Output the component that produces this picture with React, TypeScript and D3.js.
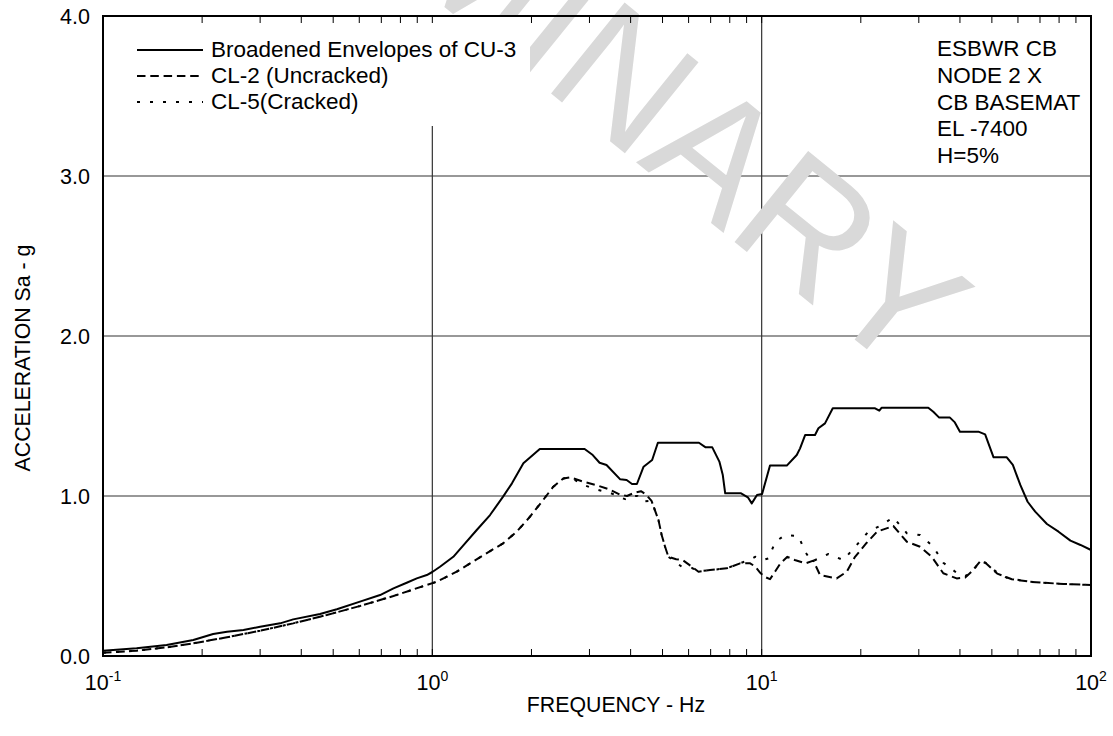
import React from "react";
import * as d3 from "d3";

const W = 1113;
const H = 736;
const M = { left: 103, right: 1091, top: 16, bottom: 656 };

// CU-3 broadened envelope [frequency Hz, acceleration g]
const cu3Envelope: [number, number][] = [
  [0.1, 0.033], [0.1265, 0.048], [0.156, 0.069], [0.188, 0.1], [0.216, 0.1375], [0.238, 0.152],
  [0.267, 0.1625], [0.3, 0.183], [0.345, 0.204], [0.378, 0.229], [0.456, 0.2625], [0.513, 0.292],
  [0.603, 0.34], [0.694, 0.381], [0.762, 0.423], [0.836, 0.458], [0.897, 0.485], [0.962, 0.506],
  [1.0, 0.525], [1.055, 0.558], [1.158, 0.62], [1.24, 0.69], [1.364, 0.7875], [1.497, 0.881],
  [1.64, 0.996], [1.745, 1.079], [1.89, 1.204], [2.12, 1.294], [2.9, 1.294], [3.07, 1.256],
  [3.22, 1.208], [3.38, 1.194], [3.72, 1.104], [3.89, 1.1], [4.04, 1.075], [4.18, 1.075],
  [4.38, 1.183], [4.65, 1.225], [4.84, 1.333], [6.45, 1.333], [6.76, 1.304], [7.08, 1.304],
  [7.44, 1.215], [7.62, 1.131], [7.75, 1.017], [8.66, 1.017], [9.08, 0.992], [9.33, 0.954],
  [9.68, 1.006], [10.03, 1.0125], [10.6, 1.19], [11.92, 1.19], [12.78, 1.256], [13.08, 1.298],
  [13.55, 1.381], [14.52, 1.381], [14.87, 1.423], [15.57, 1.454], [16.44, 1.548], [22.1, 1.548],
  [22.76, 1.533], [23.15, 1.552], [32.06, 1.552], [33.2, 1.527], [34.6, 1.49], [37.3, 1.49],
  [38.6, 1.46], [40.0, 1.402], [45.5, 1.402], [47.7, 1.385], [50.6, 1.242], [55.5, 1.242],
  [57.9, 1.194], [61.0, 1.069], [64.2, 0.964], [67.7, 0.902], [73.5, 0.825], [79.7, 0.777],
  [86.6, 0.721], [92.9, 0.694], [100, 0.6625],
];

// CL-2 (Uncracked)
const cl2Uncracked: [number, number][] = [
  [0.1, 0.021], [0.1265, 0.033], [0.156, 0.054], [0.188, 0.079], [0.238, 0.117], [0.3, 0.158],
  [0.378, 0.204], [0.478, 0.256], [0.603, 0.3125], [0.762, 0.375], [0.962, 0.444], [1.03, 0.464],
  [1.186, 0.527], [1.302, 0.579], [1.46, 0.642], [1.64, 0.704], [1.804, 0.777], [1.98, 0.871],
  [2.17, 0.975], [2.33, 1.058], [2.5, 1.11], [2.62, 1.117], [2.87, 1.09], [3.15, 1.068],
  [3.46, 1.04], [3.7, 1.01], [3.9, 1.0], [4.1, 1.02], [4.3, 1.03], [4.45, 1.01], [4.63, 0.97],
  [4.86, 0.85], [4.97, 0.756], [5.09, 0.683], [5.21, 0.62], [5.5, 0.605], [5.75, 0.6],
  [6.14, 0.558], [6.43, 0.527], [6.97, 0.5375], [7.83, 0.548], [8.6, 0.579], [9.2, 0.58],
  [9.55, 0.56], [9.9, 0.52], [10.2, 0.495], [10.6, 0.48], [11.0, 0.53], [11.4, 0.579],
  [11.97, 0.62], [12.6, 0.6], [13.6, 0.579], [14.35, 0.596], [15.04, 0.506], [16.9, 0.485],
  [18.13, 0.527], [19.21, 0.62], [20.85, 0.708], [22.4, 0.777], [25.1, 0.8125], [27.6, 0.714],
  [30.27, 0.683], [32.85, 0.62], [35.6, 0.517], [39.1, 0.485], [41.5, 0.49], [43.5, 0.53],
  [46, 0.59], [47.7, 0.585], [51.9, 0.515], [57.5, 0.48], [65.3, 0.464], [71.7, 0.458],
  [82.5, 0.45], [100, 0.444],
];

// CL-5 (Cracked)
const cl5Cracked: [number, number][] = [
  [0.1, 0.021], [0.1265, 0.033], [0.156, 0.054], [0.188, 0.079], [0.238, 0.117], [0.3, 0.158],
  [0.378, 0.204], [0.478, 0.256], [0.603, 0.3125], [0.762, 0.375], [0.962, 0.444], [1.03, 0.464],
  [1.186, 0.527], [1.302, 0.579], [1.46, 0.642], [1.64, 0.704], [1.804, 0.777], [1.98, 0.871],
  [2.17, 0.975], [2.33, 1.058], [2.5, 1.11], [2.62, 1.117], [2.87, 1.07], [3.15, 1.04],
  [3.46, 1.02], [3.85, 0.98], [4.05, 1.0], [4.2, 1.0], [4.33, 0.965], [4.63, 0.97],
  [4.86, 0.85], [4.97, 0.756], [5.09, 0.683], [5.21, 0.62], [5.45, 0.59], [5.72, 0.558],
  [6.14, 0.55], [6.43, 0.53], [6.97, 0.537], [7.83, 0.548], [8.6, 0.58], [9.2, 0.6],
  [9.55, 0.62], [10.1, 0.6], [10.48, 0.61], [11.0, 0.714], [11.78, 0.756], [12.93, 0.75],
  [13.55, 0.652], [14.19, 0.59], [15.95, 0.6375], [17.7, 0.6], [19.45, 0.694], [21.09, 0.777],
  [23.16, 0.819], [25.1, 0.867], [27.6, 0.767], [30.27, 0.756], [33.2, 0.683], [35.6, 0.583],
  [39.1, 0.52], [41.5, 0.5], [43.5, 0.52], [46, 0.595], [48, 0.58], [52, 0.52], [56, 0.485],
  [65.3, 0.464], [71.7, 0.458], [82.5, 0.45], [100, 0.444],
];

const yTicks = [0, 1, 2, 3, 4];
const yGrid = [1, 2, 3];
const xDecades = [0.1, 1, 10, 100];
const xDecadeExp = ["-1", "0", "1", "2"];
const xGrid = [1, 10];
const legendLabels = ["Broadened Envelopes of CU-3", "CL-2 (Uncracked)", "CL-5(Cracked)"];
const infoLines = ["ESBWR CB", "NODE 2 X", "CB BASEMAT", "EL -7400", "H=5%"];
const xTitle = "FREQUENCY - Hz";
const yTitle = "ACCELERATION Sa - g";
const watermark = "PRELIMINARY";

const FONT = "'Liberation Sans', Arial, Helvetica, sans-serif";

export default function App() {
  const x = d3.scaleLog().domain([0.1, 100]).range([M.left, M.right]);
  const y = d3.scaleLinear().domain([0, 4]).range([M.bottom, M.top]);
  const line = d3
    .line<[number, number]>()
    .x((d) => x(d[0]))
    .y((d) => y(d[1]));

  const minorTicks: number[] = [];
  [0.1, 1, 10].forEach((dec) => {
    for (let k = 1; k <= 9; k++) minorTicks.push(dec * k);
  });
  minorTicks.push(100);

  const series = [
    { data: cu3Envelope, dash: "none" },
    { data: cl2Uncracked, dash: "8.5,4.8" },
    { data: cl5Cracked, dash: "3,10" },
  ];

  const legendY = [50, 76, 102];
  const fsTick = 21.5;
  const fsTitle = 21.3;
  const fsText = 22.5;

  return (
    <svg
      width={W}
      height={H}
      style={{ position: "absolute", left: 0, top: 0, background: "#fff" }}
      fontFamily={FONT}
    >
      <rect x={0} y={0} width={W} height={H} fill="#fff" />
      {/* grid */}
      {yGrid.map((v) => (
        <line key={"gy" + v} x1={M.left} x2={M.right} y1={y(v)} y2={y(v)} stroke="#333" strokeWidth={1.2} />
      ))}
      {xGrid.map((v) => (
        <line key={"gx" + v} x1={x(v)} x2={x(v)} y1={M.top} y2={M.bottom} stroke="#333" strokeWidth={1.2} />
      ))}
      {/* watermark */}
      <text
        transform={`translate(905,380) rotate(39)`}
        textAnchor="end"
        fontSize={170}
        fill="#d9d9d9"
      >
        {watermark}
      </text>
      {/* legend backdrop */}
      <rect x={110} y={M.top + 1} width={420} height={109} fill="#fff" />
      {/* curves */}
      {series.map((s, i) => (
        <path
          key={"s" + i}
          d={line(s.data) || ""}
          fill="none"
          stroke="#000"
          strokeWidth={2}
          strokeDasharray={s.dash}
          strokeLinejoin="round"
        />
      ))}
      {/* ticks */}
      {minorTicks.map((t, i) => (
        <g key={"t" + i}>
          <line x1={x(t)} x2={x(t)} y1={M.top} y2={M.top + 7} stroke="#000" strokeWidth={1} />
          <line x1={x(t)} x2={x(t)} y1={M.bottom} y2={M.bottom - 7} stroke="#000" strokeWidth={1} />
        </g>
      ))}
      {/* frame */}
      <rect
        x={M.left}
        y={M.top}
        width={M.right - M.left}
        height={M.bottom - M.top}
        fill="none"
        stroke="#000"
        strokeWidth={2}
      />
      {/* y tick labels */}
      {yTicks.map((v) => (
        <text key={"yl" + v} x={90} y={y(v)} dy="0.36em" textAnchor="end" fontSize={fsTick}>
          {d3.format(".1f")(v)}
        </text>
      ))}
      {/* x tick labels */}
      {xDecades.map((v, i) => (
        <text key={"xl" + v} x={x(v)} y={690} textAnchor="middle" fontSize={fsTick}>
          10
          <tspan fontSize={14} dy={-9}>
            {xDecadeExp[i]}
          </tspan>
        </text>
      ))}
      {/* axis titles */}
      <text x={616} y={712} textAnchor="middle" fontSize={fsTitle}>
        {xTitle}
      </text>
      <text transform={`translate(30,358) rotate(-90)`} textAnchor="middle" fontSize={fsTitle}>
        {yTitle}
      </text>
      {/* legend */}
      {legendLabels.map((lab, i) => (
        <g key={"lg" + i}>
          <line
            x1={137}
            x2={203}
            y1={legendY[i]}
            y2={legendY[i]}
            stroke="#000"
            strokeWidth={2}
            strokeDasharray={series[i].dash}
          />
          <text x={211} y={legendY[i] + 7} fontSize={fsText}>
            {lab}
          </text>
        </g>
      ))}
      {/* info block */}
      {infoLines.map((t, i) => (
        <text key={"in" + i} x={937} y={56 + i * 26.8} fontSize={fsText}>
          {t}
        </text>
      ))}
    </svg>
  );
}
